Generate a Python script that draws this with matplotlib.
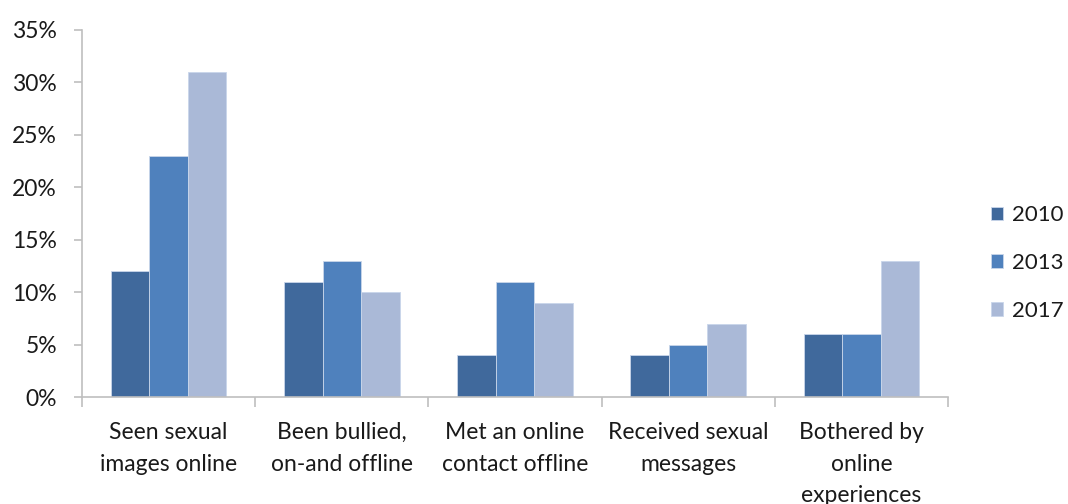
import numpy as np
import matplotlib
matplotlib.use("Agg")
import matplotlib.pyplot as plt
from matplotlib.ticker import FuncFormatter, FixedLocator

categories = [
    "Seen sexual\nimages online",
    "Been bullied,\non-and offline",
    "Met an online\ncontact offline",
    "Received sexual\nmessages",
    "Bothered by\nonline\nexperiences",
]
years = ["2010", "2013", "2017"]
values_2010 = [12, 11, 4, 4, 6]
values_2013 = [23, 13, 11, 5, 6]
values_2017 = [31, 10, 9, 7, 13]
yticks = [0, 5, 10, 15, 20, 25, 30, 35]

series = [values_2010, values_2013, values_2017]
colors = ["#40699C", "#4F81BD", "#AAB9D7"]

plt.rcParams["font.family"] = ["Lato", "DejaVu Sans"]
FS = 16.5

fig = plt.figure(figsize=(10.68, 5.04), dpi=100)
ax = fig.add_axes([82 / 1068, 1 - 397 / 504, (948 - 82) / 1068, (397 - 30) / 504])

x = np.arange(len(categories))
w = 1 / 4.5
for i, (vals, col, yr) in enumerate(zip(series, colors, years)):
    ax.bar(x + (i - 1) * w, vals, width=w, color=col, label=yr,
           edgecolor="#C9D6EA", linewidth=0.6)

ax.set_xlim(-0.5, len(categories) - 0.5)
ax.set_ylim(0, 35)
ax.set_yticks(yticks)
ax.yaxis.set_major_formatter(FuncFormatter(lambda v, p: f"{int(v)}%"))

ax.set_xticks(x)
ax.set_xticklabels(categories, linespacing=1.62)
ax.xaxis.set_minor_locator(FixedLocator(np.arange(len(categories) + 1) - 0.5))

axis_color = "#BFBFBF"
for side in ["top", "right"]:
    ax.spines[side].set_visible(False)
for side in ["left", "bottom"]:
    ax.spines[side].set_color(axis_color)
    ax.spines[side].set_linewidth(1.2)

ax.tick_params(axis="y", direction="out", length=6, width=1.2, color=axis_color,
               labelsize=FS, pad=12, labelcolor="#1a1a1a")
ax.tick_params(axis="x", which="major", length=0, labelsize=FS, pad=18,
               labelcolor="#1a1a1a")
ax.tick_params(axis="x", which="minor", direction="out", length=7, width=1.2,
               color=axis_color)

leg = fig.legend(loc="center left", bbox_to_anchor=(991 / 1068, 1 - 263 / 504),
                 frameon=False, fontsize=16, handlelength=0.55, handleheight=0.55,
                 handletextpad=0.4, labelspacing=1.25, borderaxespad=0,
                 borderpad=0)
for t in leg.get_texts():
    t.set_color("#1a1a1a")

fig.savefig("out.png", dpi=100)
